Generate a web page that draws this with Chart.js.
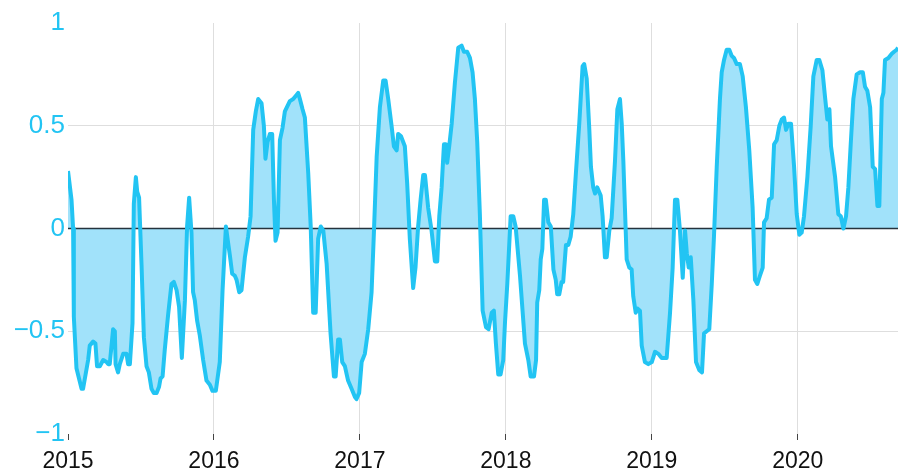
<!DOCTYPE html>
<html lang="en">
<head>
    <meta charset="UTF-8">
    <title>Index</title>
    <script src="https://cdn.jsdelivr.net/npm/chart.js"></script>
    <style>
        html, body { margin: 0; padding: 0; background: #fff; }
        #wrap { width: 898px; height: 472px; position: relative; }
    </style>
</head>
<body>
    <div id="wrap"><canvas id="indexChart"></canvas></div>

    <script>
        // decimal years
        const dates = [
            2015.000, 2015.024, 2015.035, 2015.040, 2015.058, 2015.093, 2015.103, 2015.138, 2015.149, 2015.172,
            2015.188, 2015.199, 2015.218, 2015.241, 2015.264, 2015.275, 2015.286, 2015.309, 2015.321, 2015.326,
            2015.343, 2015.355, 2015.378, 2015.401, 2015.412, 2015.424, 2015.442, 2015.451, 2015.465, 2015.474,
            2015.487, 2015.504, 2015.520, 2015.538, 2015.554, 2015.572, 2015.588, 2015.607, 2015.624, 2015.634,
            2015.648, 2015.663, 2015.686, 2015.709, 2015.725, 2015.744, 2015.761, 2015.780, 2015.801, 2015.816,
            2015.830, 2015.846, 2015.857, 2015.869, 2015.885, 2015.903, 2015.926, 2015.949, 2015.972, 2015.990,
            2016.013, 2016.040, 2016.059, 2016.082, 2016.097, 2016.109, 2016.125, 2016.143, 2016.155, 2016.173,
            2016.189, 2016.212, 2016.234, 2016.251, 2016.269, 2016.287, 2016.303, 2016.326, 2016.342, 2016.353,
            2016.367, 2016.383, 2016.399, 2016.411, 2016.422, 2016.436, 2016.452, 2016.470, 2016.486, 2016.520,
            2016.543, 2016.566, 2016.577, 2016.589, 2016.607, 2016.623, 2016.646, 2016.663, 2016.680, 2016.697,
            2016.714, 2016.732, 2016.749, 2016.772, 2016.799, 2016.822, 2016.834, 2016.851, 2016.863, 2016.879,
            2016.897, 2016.919, 2016.943, 2016.966, 2016.977, 2016.995, 2017.012, 2017.034, 2017.057, 2017.080,
            2017.096, 2017.115, 2017.137, 2017.160, 2017.176, 2017.194, 2017.217, 2017.233, 2017.252, 2017.262,
            2017.281, 2017.308, 2017.324, 2017.342, 2017.365, 2017.381, 2017.399, 2017.416, 2017.434, 2017.446,
            2017.468, 2017.491, 2017.514, 2017.530, 2017.544, 2017.560, 2017.576, 2017.589, 2017.598, 2017.612,
            2017.629, 2017.651, 2017.674, 2017.697, 2017.713, 2017.735, 2017.754, 2017.772, 2017.788, 2017.804,
            2017.822, 2017.841, 2017.864, 2017.882, 2017.903, 2017.918, 2017.932, 2017.948, 2017.964, 2017.982,
            2017.994, 2018.010, 2018.033, 2018.051, 2018.067, 2018.097, 2018.131, 2018.154, 2018.170, 2018.193,
            2018.207, 2018.215, 2018.229, 2018.239, 2018.250, 2018.262, 2018.274, 2018.291, 2018.308, 2018.326,
            2018.342, 2018.352, 2018.366, 2018.382, 2018.393, 2018.412, 2018.428, 2018.444, 2018.462, 2018.480,
            2018.503, 2018.526, 2018.537, 2018.554, 2018.572, 2018.583, 2018.599, 2018.611, 2018.626, 2018.650,
            2018.663, 2018.679, 2018.691, 2018.709, 2018.725, 2018.748, 2018.764, 2018.782, 2018.794, 2018.805,
            2018.816, 2018.828, 2018.846, 2018.862, 2018.873, 2018.890, 2018.903, 2018.919, 2018.931, 2018.953,
            2018.976, 2019.000, 2019.022, 2019.045, 2019.068, 2019.102, 2019.125, 2019.143, 2019.159, 2019.175,
            2019.193, 2019.212, 2019.228, 2019.240, 2019.253, 2019.267, 2019.285, 2019.303, 2019.326, 2019.344,
            2019.358, 2019.376, 2019.394, 2019.411, 2019.426, 2019.445, 2019.467, 2019.479, 2019.495, 2019.513,
            2019.531, 2019.548, 2019.563, 2019.582, 2019.604, 2019.623, 2019.645, 2019.668, 2019.691, 2019.707,
            2019.723, 2019.741, 2019.760, 2019.769, 2019.787, 2019.803, 2019.822, 2019.838, 2019.856, 2019.874,
            2019.890, 2019.906, 2019.920, 2019.936, 2019.954, 2019.975, 2019.993, 2020.011, 2020.027, 2020.043,
            2020.066, 2020.089, 2020.107, 2020.130, 2020.148, 2020.169, 2020.187, 2020.203, 2020.217, 2020.228,
            2020.256, 2020.278, 2020.295, 2020.313, 2020.331, 2020.347, 2020.363, 2020.381, 2020.404, 2020.427,
            2020.446, 2020.461, 2020.477, 2020.496, 2020.514, 2020.530, 2020.546, 2020.559, 2020.576, 2020.587,
            2020.598, 2020.621, 2020.644, 2020.660, 2020.678, 2020.687
        ];

        const values = [
            0.28, 0.14, 0.00, -0.43, -0.68, -0.78, -0.78, -0.64, -0.57, -0.55,
            -0.56, -0.67, -0.67, -0.64, -0.65, -0.66, -0.66, -0.49, -0.50, -0.66,
            -0.70, -0.66, -0.61, -0.61, -0.66, -0.66, -0.46, 0.12, 0.25, 0.18,
            0.15, -0.18, -0.53, -0.67, -0.70, -0.78, -0.80, -0.80, -0.77, -0.73,
            -0.72, -0.59, -0.42, -0.27, -0.26, -0.30, -0.38, -0.63, -0.35, 0.01,
            0.15, -0.02, -0.31, -0.35, -0.45, -0.52, -0.64, -0.74, -0.76, -0.79,
            -0.79, -0.65, -0.30, 0.01, -0.07, -0.13, -0.22, -0.23, -0.25, -0.31,
            -0.30, -0.14, -0.04, 0.06, 0.48, 0.57, 0.63, 0.61, 0.50, 0.34,
            0.42, 0.46, 0.46, 0.14, -0.06, -0.02, 0.43, 0.49, 0.57, 0.62,
            0.63, 0.65, 0.66, 0.63, 0.58, 0.54, 0.27, 0.01, -0.41, -0.41,
            -0.05, 0.01, -0.01, -0.17, -0.51, -0.72, -0.72, -0.54, -0.54, -0.65,
            -0.67, -0.74, -0.78, -0.82, -0.83, -0.80, -0.65, -0.61, -0.49, -0.31,
            -0.02, 0.35, 0.59, 0.72, 0.72, 0.63, 0.50, 0.40, 0.38, 0.46,
            0.45, 0.40, 0.22, -0.05, -0.29, -0.19, 0.01, 0.14, 0.26, 0.26,
            0.10, -0.01, -0.16, -0.16, 0.06, 0.20, 0.41, 0.41, 0.32, 0.40,
            0.51, 0.71, 0.88, 0.89, 0.86, 0.86, 0.83, 0.76, 0.63, 0.42,
            0.07, -0.40, -0.48, -0.49, -0.41, -0.40, -0.56, -0.71, -0.71, -0.64,
            -0.46, -0.27, 0.06, 0.06, 0.01, -0.23, -0.56, -0.64, -0.72, -0.72,
            -0.64, -0.36, -0.30, -0.15, -0.10, 0.14, 0.14, 0.03, 0.01, -0.20,
            -0.25, -0.32, -0.32, -0.26, -0.26, -0.08, -0.08, -0.04, 0.07, 0.27,
            0.51, 0.79, 0.80, 0.73, 0.48, 0.30, 0.20, 0.17, 0.20, 0.16,
            0.06, -0.14, -0.14, -0.01, 0.05, 0.33, 0.58, 0.63, 0.51, 0.33,
            0.10, -0.15, -0.19, -0.20, -0.33, -0.41, -0.39, -0.40, -0.57, -0.65,
            -0.66, -0.65, -0.60, -0.61, -0.63, -0.63, -0.41, -0.19, 0.14, 0.14,
            -0.01, -0.24, -0.01, -0.12, -0.19, -0.14, -0.35, -0.65, -0.69, -0.70,
            -0.51, -0.50, -0.49, -0.27, -0.04, 0.30, 0.63, 0.76, 0.82, 0.87,
            0.87, 0.84, 0.83, 0.80, 0.80, 0.74, 0.59, 0.38, 0.10, -0.25,
            -0.27, -0.23, -0.19, 0.03, 0.05, 0.14, 0.15, 0.41, 0.43, 0.50,
            0.53, 0.54, 0.48, 0.51, 0.51, 0.30, 0.07, -0.03, -0.02, 0.06,
            0.25, 0.50, 0.74, 0.82, 0.82, 0.77, 0.64, 0.53, 0.58, 0.40,
            0.25, 0.07, 0.06, 0.00, 0.06, 0.20, 0.41, 0.63, 0.75, 0.76,
            0.76, 0.69, 0.67, 0.59, 0.30, 0.29, 0.11, 0.11, 0.63, 0.66,
            0.82, 0.83, 0.85, 0.86, 0.87, 0.88
        ];

        const xMin = 2015;
        const xMax = 2020.687;
        const yTicks = [-1, -0.5, 0, 0.5, 1];

        const CYAN = '#22c4f3';
        const FILL = '#a1e2fa';
        const FONT = "'Liberation Sans', Arial, Helvetica, sans-serif";

        const points = dates.map((d, i) => ({ x: d, y: values[i] }));
        const zeroLine = [{ x: xMin, y: 0 }, { x: xMax, y: 0 }];

        const ctx = document.getElementById('indexChart').getContext('2d');
        new Chart(ctx, {
            type: 'line',
            data: {
                datasets: [{
                    data: points,
                    borderColor: CYAN,
                    backgroundColor: FILL,
                    borderWidth: 4,
                    borderJoinStyle: 'round',
                    fill: 'origin',
                    pointRadius: 0,
                    tension: 0
                }, {
                    data: zeroLine,
                    borderColor: '#25333d',
                    borderWidth: 1.5,
                    fill: false,
                    pointRadius: 0
                }]
            },
            options: {
                responsive: true,
                maintainAspectRatio: false,
                animation: false,
                layout: { padding: { top: 23, right: 0, bottom: 0, left: 0 } },
                plugins: {
                    legend: { display: false },
                    tooltip: { enabled: false },
                    filler: { drawTime: 'beforeDatasetsDraw' }
                },
                scales: {
                    x: {
                        type: 'linear',
                        min: xMin,
                        max: xMax,
                        afterFit: s => { s.height = 38; },
                        border: { display: false },
                        grid: {
                            color: c => (c.tick && c.tick.value === xMin) ? 'rgba(0,0,0,0)' : '#dedede',
                            tickColor: '#444',
                            tickLength: 6,
                            lineWidth: 1
                        },
                        ticks: {
                            stepSize: 1,
                            includeBounds: false,
                            autoSkip: false,
                            maxRotation: 0,
                            padding: 8,
                            color: '#111',
                            font: { size: 23, family: FONT },
                            callback: v => Number.isInteger(v) ? String(v) : ''
                        }
                    },
                    y: {
                        min: -1,
                        max: 1,
                        afterFit: s => { s.width = 68; },
                        afterBuildTicks: s => { s.ticks = yTicks.map(v => ({ value: v })); },
                        border: { display: false },
                        grid: {
                            drawTicks: false,
                            color: c => (c.tick && Math.abs(c.tick.value) === 0.5) ? '#dedede' : 'rgba(0,0,0,0)'
                        },
                        ticks: {
                            padding: 3,
                            color: CYAN,
                            font: { size: 26, family: FONT },
                            callback: v => v < 0 ? '\u2212' + Math.abs(v) : String(v)
                        }
                    }
                }
            }
        });
    </script>
</body>
</html>
